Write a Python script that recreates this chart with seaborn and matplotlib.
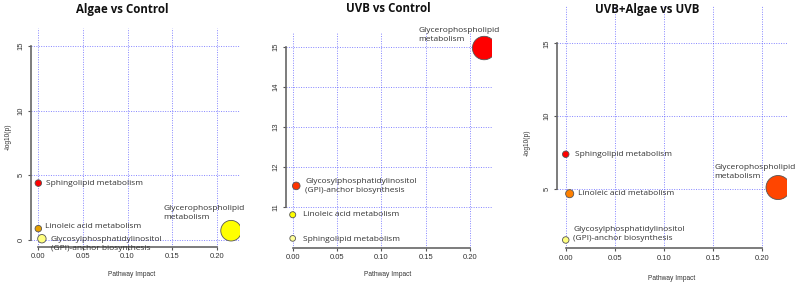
import matplotlib
matplotlib.use("Agg")
import matplotlib.pyplot as plt
import seaborn as sns
import pandas as pd

sns.set_style("white")
plt.rcParams['font.family'] = ['Open Sans', 'DejaVu Sans']

# ---------------- data ----------------
pathways = ["Glycerophospholipid", "Sphingolipid", "Linoleic", "GPI"]
labels = ["Glycerophospholipid\nmetabolism",
          "Sphingolipid metabolism",
          "Linoleic acid metabolism",
          "Glycosylphosphatidylinositol\n(GPI)-anchor biosynthesis"]

titles = ["Algae vs Control", "UVB vs Control", "UVB+Algae vs UVB"]

impact_1 = [0.216, 0.0, 0.0, 0.004]
logp_1 = [0.72, 4.4, 0.88, 0.1]
impact_2 = [0.216, 0.0, 0.0, 0.004]
logp_2 = [14.97, 10.22, 10.81, 11.53]
impact_3 = [0.216, 0.0, 0.004, 0.0]
logp_3 = [5.12, 7.4, 4.7, 1.53]

yticks_1 = [0, 5, 10, 15]
yticks_2 = [11, 12, 13, 14, 15]
yticks_3 = [5, 10, 15]
xticks = [0.00, 0.05, 0.10, 0.15, 0.20]

# ---------------- styles ----------------
colors = [
    ["#FFFF00", "#FF0000", "#E8A000", "#FFFF80"],
    ["#FF0000", "#FFFF99", "#FFFF00", "#FF3300"],
    ["#FF4500", "#FF0000", "#FF8000", "#FFFF80"],
]
areas = [
    [220, 22, 22, 37],
    [285, 17, 19, 30],
    [300, 22, 34, 22],
]
# label offsets (points) relative to each bubble
offsets = [
    [(-49, 13), (5.5, 0), (4.6, 1.7), (6.3, -3.8)],
    [(-47.5, 9.1), (7.2, -0.7), (7.2, 0.3), (6.5, -0.4)],
    [(-46, 11.2), (6.7, 0), (6.3, 0), (5.5, 4)],
]

W, H = 796, 286
fig = plt.figure(figsize=(W / 100, H / 100), dpi=100)

# axes rectangles in pixels: left, right, top, bottom
rects = [(31, 240, 28, 247), (285.7, 491.7, 32, 248), (556.7, 786.7, 5, 248.3)]
xlims = [(-0.0082, 0.226), (-0.0079, 0.2245), (-0.0092, 0.2248)]
ylims = [(-0.54, 16.39), (9.98, 15.37), (0.96, 17.62)]
impacts = [impact_1, impact_2, impact_3]
logps = [logp_1, logp_2, logp_3]
yticks_all = [yticks_1, yticks_2, yticks_3]

title_pos = [(122, 10), (388, 8), (647, 10)]
xlabel_pos = [(132, 275), (388, 275), (672, 278)]
ylabel_pos = [(8, 137), None, (527, 143)]

for i in range(3):
    l, r, t, b = rects[i]
    ax = fig.add_axes([l / W, (H - b) / H, (r - l) / W, (b - t) / H])
    df = pd.DataFrame({"pathway": pathways, "impact": impacts[i], "logp": logps[i]})
    ax.grid(True, color="#3333FF", linestyle=(0, (1, 1.5)), linewidth=0.7, alpha=0.6)
    ax.set_axisbelow(True)
    sns.scatterplot(data=df, x="impact", y="logp", hue="pathway", size="pathway",
                    palette=dict(zip(pathways, colors[i])),
                    sizes=dict(zip(pathways, areas[i])),
                    edgecolor="#555555", linewidth=0.6, legend=False, ax=ax, zorder=3)
    for j, lab in enumerate(labels):
        ax.annotate(lab, xy=(impacts[i][j], logps[i][j]), xytext=offsets[i][j],
                    textcoords="offset points", ha="left", va="center",
                    fontsize=6.05, color="#333333", linespacing=1.4,
                    family=["Open Sans", "DejaVu Sans"], zorder=4,
                    annotation_clip=False)
    ax.set_xlim(*xlims[i])
    ax.set_ylim(*ylims[i])
    ax.set_xticks(xticks)
    ax.set_xticklabels([f"{v:.2f}" for v in xticks])
    ax.set_yticks(yticks_all[i])
    ax.set_yticklabels([str(v) for v in yticks_all[i]], rotation=90, va="center")
    ax.tick_params(axis="both", length=2.5, width=0.8, color="#555555",
                   labelsize=5.5, labelcolor="#333333", pad=2, direction="out",
                   bottom=True, left=True)
    for lab in ax.get_xticklabels() + ax.get_yticklabels():
        lab.set_family(["Liberation Sans", "DejaVu Sans"])
    for s in ["top", "right"]:
        ax.spines[s].set_visible(False)
    for s in ["left", "bottom"]:
        ax.spines[s].set_color("#666666")
        ax.spines[s].set_linewidth(1.2)
    ax.spines["left"].set_bounds(min(yticks_all[i]), max(yticks_all[i]))
    ax.spines["bottom"].set_bounds(xticks[0], xticks[-1])
    ax.set_xlabel("")
    ax.set_ylabel("")
    ax.set_facecolor("none")

    tx, ty = title_pos[i]
    fig.text(tx / W, 1 - ty / H, titles[i], ha="center", va="center",
             fontsize=8.3, fontweight="bold", color="#111111",
             family=["Open Sans", "DejaVu Sans"])
    xx, xy = xlabel_pos[i]
    fig.text(xx / W, 1 - xy / H, "Pathway Impact", ha="center", va="center",
             fontsize=4.8, color="#333333", family=["Liberation Sans", "DejaVu Sans"])
    if ylabel_pos[i] is not None:
        yx, yy = ylabel_pos[i]
        fig.text(yx / W, 1 - yy / H, "-log10(p)", ha="center", va="center",
                 rotation=90, fontsize=4.8, color="#333333",
                 family=["Liberation Sans", "DejaVu Sans"])

fig.savefig("out.png", dpi=100)
